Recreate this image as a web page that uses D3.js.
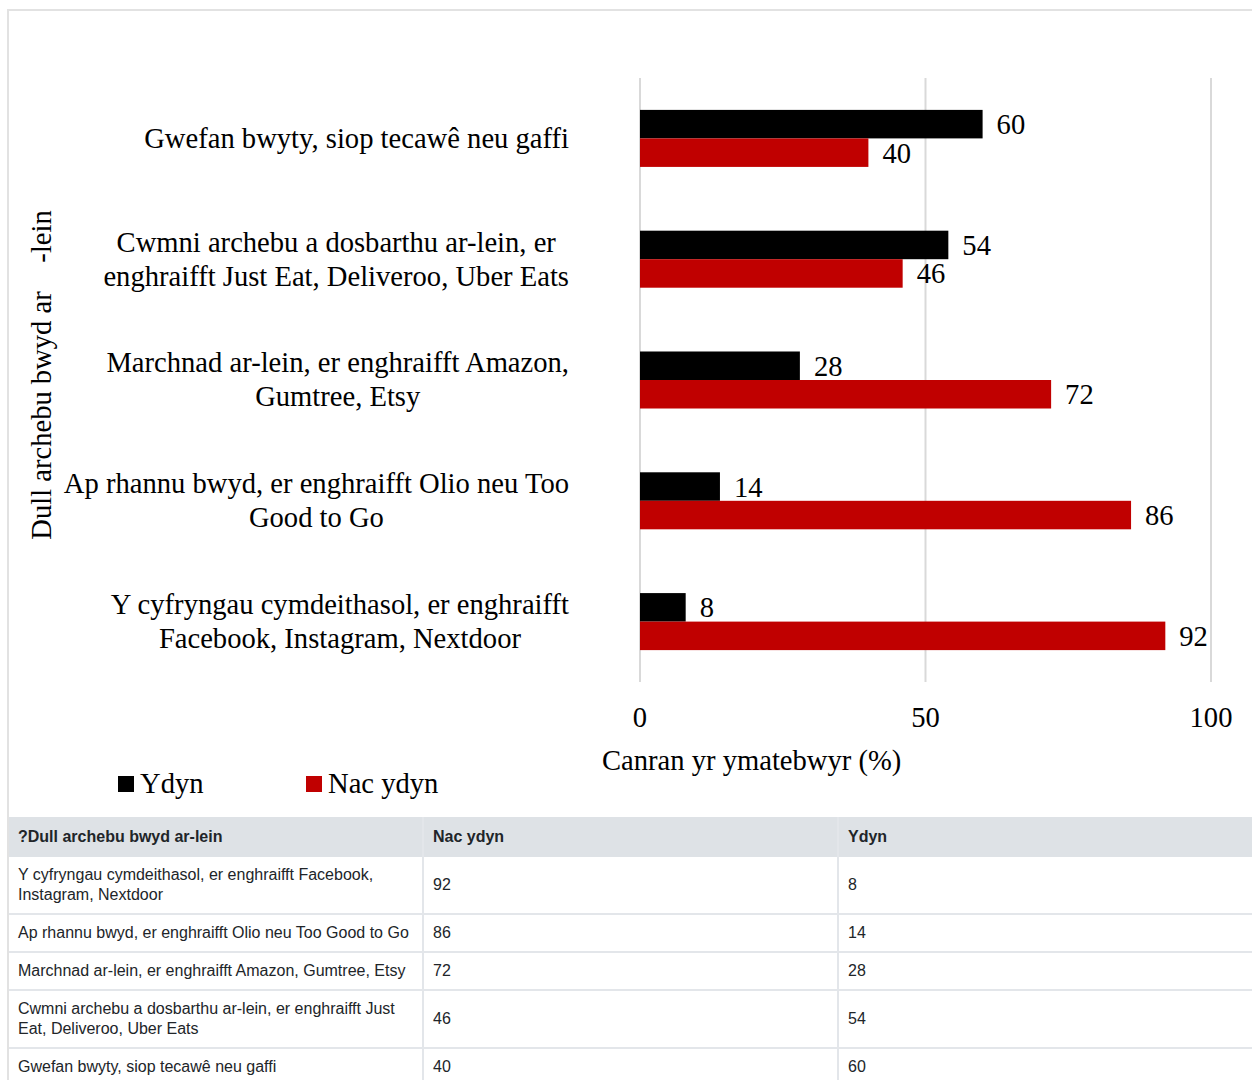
<!DOCTYPE html>
<html>
<head>
<meta charset="utf-8">
<script src="https://cdn.jsdelivr.net/npm/d3@7"></script>
<style>
  html, body { margin: 0; padding: 0; background: #fff; width: 1252px; height: 1080px; overflow: hidden; }
  #frame { position: absolute; left: 7px; top: 9px; width: 1270px; height: 1100px; border-left: 2px solid #e2e2e2; border-top: 2px solid #e2e2e2; box-sizing: border-box; }
  svg { position: absolute; left: 0; top: 0; }
  table { position: absolute; left: 9px; top: 817px; border-collapse: collapse; font-family: "Liberation Sans", Arial, sans-serif; font-size: 16px; color: #212529; width: 1262px; table-layout: fixed; }
  th, td { text-align: left; vertical-align: middle; padding: 8px 9px; line-height: 20px; border-bottom: 2px solid #e3e6ea; }
  td + td, th + th { border-left: 2px solid #e3e6ea; }
  th { background: #dee2e6; font-weight: bold; border-bottom: 0; padding-top: 10px; padding-bottom: 10px; }
</style>
</head>
<body>
<div id="frame"></div>
<svg id="chart" width="1252" height="817"></svg>
<table id="tbl"></table>
<script>
const categories = [
  "Y cyfryngau cymdeithasol, er enghraifft Facebook, Instagram, Nextdoor",
  "Ap rhannu bwyd, er enghraifft Olio neu Too Good to Go",
  "Marchnad ar-lein, er enghraifft Amazon, Gumtree, Etsy",
  "Cwmni archebu a dosbarthu ar-lein, er enghraifft Just Eat, Deliveroo, Uber Eats",
  "Gwefan bwyty, siop tecawê neu gaffi"
];
const seriesNames = ["Ydyn", "Nac ydyn"];
const ydyn = [8, 14, 28, 54, 60];
const nacYdyn = [92, 86, 72, 46, 40];
const xTicks = [0, 50, 100];
const colors = ["#000000", "#c00000"];
const yAxisTitle = "Dull archebu bwyd ar\u00a0\u00a0\u00a0\u00a0-lein";
const xAxisTitle = "Canran yr ymatebwyr (%)";
const tableHeader = ["?Dull archebu bwyd ar-lein", "Nac ydyn", "Ydyn"];

const rows = categories.map((c, i) => ({cat: c, vals: [ydyn[i], nacYdyn[i]]}));

const svg = d3.select("#chart");
const serif = "'Liberation Serif', 'Times New Roman', serif";
const FS = 28.6;

const x = d3.scaleLinear().domain([0, 100]).range([640, 1211]);
const y = d3.scaleBand().domain(categories.slice().reverse()).range([78, 682]).paddingInner(0.528).paddingOuter(0.264);
const ySub = d3.scaleBand().domain(seriesNames).range([0, y.bandwidth()]);

// gridlines
svg.append("g").selectAll("line").data(xTicks).join("line")
  .attr("x1", d => x(d)).attr("x2", d => x(d))
  .attr("y1", 78).attr("y2", 682)
  .attr("stroke", "#d9d9d9").attr("stroke-width", 2);

// bars
const groups = svg.append("g").selectAll("g").data(rows).join("g")
  .attr("transform", d => `translate(0,${y(d.cat)})`);
groups.selectAll("rect").data(d => d.vals.map((v, j) => ({v, s: seriesNames[j], j}))).join("rect")
  .attr("x", x(0)).attr("y", d => ySub(d.s))
  .attr("width", d => x(d.v) - x(0)).attr("height", ySub.bandwidth())
  .attr("fill", d => colors[d.j]);
groups.selectAll("text").data(d => d.vals.map((v, j) => ({v, s: seriesNames[j], j}))).join("text")
  .attr("x", d => x(d.v) + 14).attr("y", d => ySub(d.s) + ySub.bandwidth() / 2)
  .attr("dy", "0.35em")
  .attr("font-family", serif).attr("font-size", FS).attr("fill", "#000")
  .text(d => d.v);

// category labels (wrapped)
const maxW = 520, rightEdge = 569, lineH = 34;
const measure = svg.append("text").attr("font-family", serif).attr("font-size", FS).attr("visibility", "hidden");
function w(t) { measure.text(t); return measure.node().getComputedTextLength(); }
categories.forEach(c => {
  const words = c.split(" ");
  const lines = [];
  let cur = "";
  words.forEach(wd => {
    const t = cur ? cur + " " + wd : wd;
    if (w(t) > maxW && cur) { lines.push(cur); cur = wd; } else cur = t;
  });
  lines.push(cur);
  const bw = d3.max(lines, l => w(l));
  const cx = rightEdge - bw / 2;
  const cy = y(c) + y.bandwidth() / 2;
  const t = svg.append("text").attr("font-family", serif).attr("font-size", FS)
    .attr("text-anchor", "middle").attr("fill", "#000");
  lines.forEach((l, i) => {
    t.append("tspan").attr("x", cx)
      .attr("y", cy + (i - (lines.length - 1) / 2) * lineH)
      .attr("dy", "0.33em").text(l);
  });
});
measure.remove();

// x tick labels
svg.append("g").selectAll("text").data(xTicks).join("text")
  .attr("x", d => x(d)).attr("y", 727)
  .attr("text-anchor", "middle").attr("font-family", serif).attr("font-size", FS)
  .text(d => d);

// axis titles
svg.append("text").attr("x", 602).attr("y", 770)
  .attr("font-family", serif).attr("font-size", FS).text(xAxisTitle);
svg.append("text").attr("transform", "translate(51,375) rotate(-90)")
  .attr("text-anchor", "middle").attr("font-family", serif).attr("font-size", FS)
  .style("white-space", "pre").text(yAxisTitle);

// legend
const legX = [118, 306];
const leg = svg.append("g").selectAll("g").data(seriesNames).join("g")
  .attr("transform", (d, i) => `translate(${legX[i]},776)`);
leg.append("rect").attr("width", 16).attr("height", 16).attr("fill", (d, i) => colors[i]);
leg.append("text").attr("x", 22).attr("y", 17)
  .attr("font-family", serif).attr("font-size", FS).text(d => d);

// table
const tbl = d3.select("#tbl");
const cg = tbl.append("colgroup");
cg.append("col").style("width", "414px");
cg.append("col").style("width", "415px");
cg.append("col");
tbl.append("thead").append("tr").selectAll("th").data(tableHeader).join("th").text(d => d);
tbl.append("tbody").selectAll("tr").data(categories.map((c, i) => [c, nacYdyn[i], ydyn[i]])).join("tr")
  .selectAll("td").data(d => d).join("td").text(d => d);
</script>
</body>
</html>
